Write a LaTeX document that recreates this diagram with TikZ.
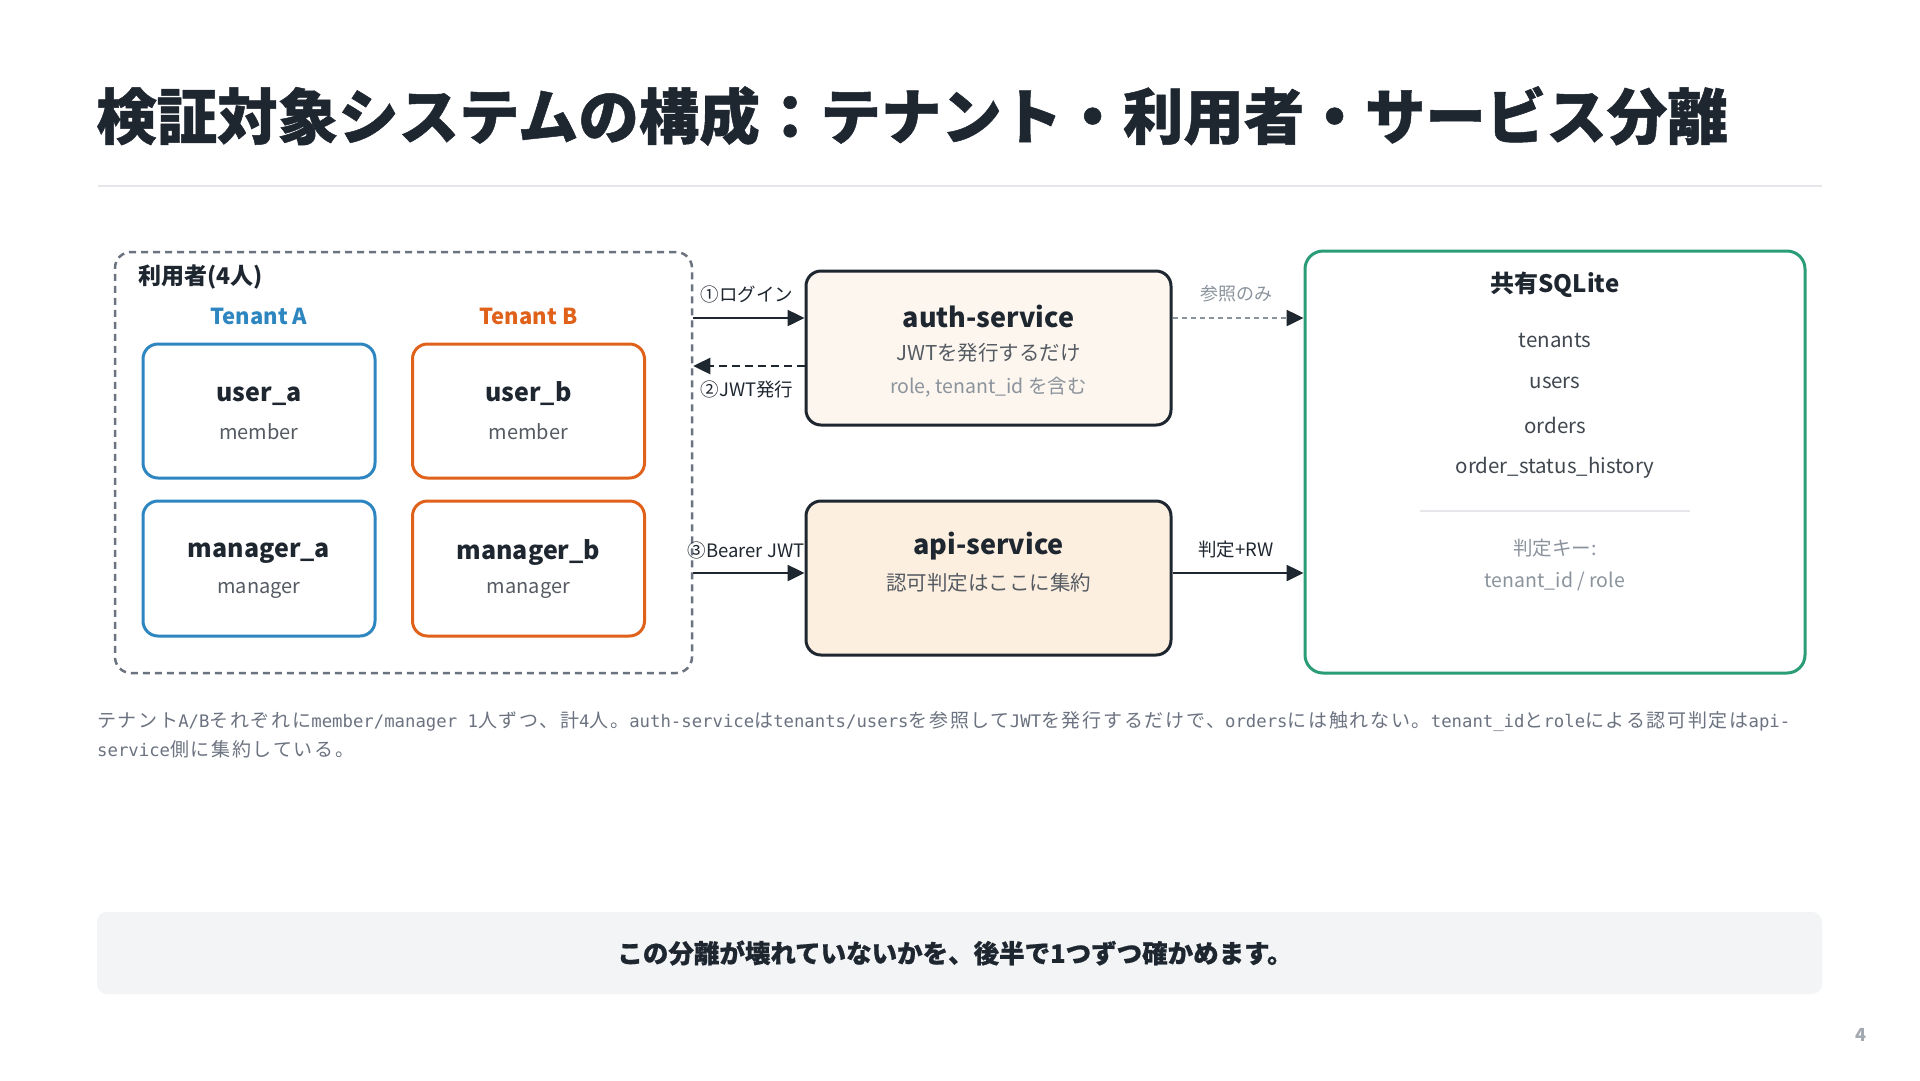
\documentclass[tikz,border=0pt]{standalone}
\usepackage{fontspec}
\setmainfont{Noto Sans CJK JP}
\newfontfamily\heavy{Noto Sans CJK JP}[BoldFeatures={FakeBold=0.8}]
\newfontfamily\monof{DejaVu Sans Mono}
\newfontfamily\capjp{Noto Sans CJK JP}[LetterSpace=9]
\usetikzlibrary{arrows.meta}
\definecolor{dark}{HTML}{1E2630}
\definecolor{tblue}{HTML}{2E86C1}
\definecolor{torange}{HTML}{E0611A}
\definecolor{tgreen}{HTML}{2A9D78}
\definecolor{gtext}{HTML}{555B63}
\definecolor{ltext}{HTML}{8B939C}
\definecolor{rulec}{HTML}{E5E7EB}
\definecolor{authfill}{HTML}{FDF6EE}
\definecolor{apifill}{HTML}{FCEFDF}
\definecolor{banner}{HTML}{F3F4F6}
\definecolor{capc}{HTML}{6B7280}
\newcommand\fs[1]{\fontsize{#1}{#1}\selectfont}
\newcommand\J[1]{{\capjp\fontsize{19}{24}\selectfont #1}}
\begin{document}
\begin{tikzpicture}[x=1pt,y=-1pt,
  lbl/.style={inner sep=0pt, text=dark},
  ubox/.style={draw, line width=3pt, rounded corners=15pt, minimum width=232pt, minimum height=134pt, fill=white, inner sep=0pt},
  svc/.style={draw=dark, line width=3pt, rounded corners=15pt, minimum width=365pt, minimum height=154pt, inner sep=0pt},
  uname/.style={lbl, font=\bfseries\fs{25}},
  urole/.style={inner sep=0pt, text=gtext, font=\fs{20}},
  arr/.style={draw=dark, line width=2.5pt, -{Triangle[length=17pt,width=16pt]}},
  alabel/.style={inner sep=0pt, text=dark, font=\fs{18.5}},
  dbitem/.style={inner sep=0pt, text=dark!85, font=\fs{20.5}}
]
\useasboundingbox (0,0) rectangle (1920,1080);
\fill[white] (0,0) rectangle (1920,1080);

% title
\node[lbl, anchor=west, font=\heavy\bfseries\fs{60.5}] (title) at (96,116) {検証対象システムの構成：テナント・利用者・サービス分離};
\coordinate (rl) at (98,186);
\coordinate (rr) at (1822,186);
\draw[rulec, line width=1.5pt] (rl) -- (rr);

% users group
\node[draw=capc, dashed, dash pattern=on 7pt off 5pt, line width=2.5pt, rounded corners=16pt, minimum width=577pt, minimum height=421pt, inner sep=0pt] (users) at (403.5,462.5) {};
\node[lbl, anchor=west, font=\bfseries\fs{23}] (ulabel) at (138,277) {利用者(4人)};
\node[inner sep=0pt, text=tblue, font=\bfseries\fs{22}] (tA) at (259,316) {Tenant A};
\node[inner sep=0pt, text=torange, font=\bfseries\fs{22}] (tB) at (528.5,316) {Tenant B};

\node[ubox, draw=tblue] (ua) at (259,411) {};
\node[uname] (uan) at (259,396) {user\_a};
\node[urole] (uar) at (259,432) {member};
\node[ubox, draw=torange] (ub) at (528.5,411) {};
\node[uname] (ubn) at (528.5,394) {user\_b};
\node[urole] (ubr) at (528.5,432) {member};
\node[ubox, draw=tblue, minimum height=135pt] (ma) at (259,568.5) {};
\node[uname] (man) at (259,553) {manager\_a};
\node[urole] (mar) at (259,590) {manager};
\node[ubox, draw=torange, minimum height=135pt] (mb) at (528.5,568.5) {};
\node[uname] (mbn) at (528.5,552) {manager\_b};
\node[urole] (mbr) at (528.5,590) {manager};

% services
\node[svc, fill=authfill] (auth) at (988.5,348) {};
\node[lbl, font=\bfseries\fs{27}] (authn) at (988.5,316) {auth-service};
\node[inner sep=0pt, text=gtext, font=\fs{20.5}] (auth1) at (988.5,353) {JWTを発行するだけ};
\node[inner sep=0pt, text=ltext, font=\fs{19.5}] (auth2) at (988.5,387) {role, tenant\_id を含む};

\node[svc, fill=apifill] (api) at (988.5,578) {};
\node[lbl, font=\bfseries\fs{27}] (apin) at (988.5,546) {api-service};
\node[inner sep=0pt, text=gtext, font=\fs{20.5}] (api1) at (988.5,583) {認可判定はここに集約};

% database
\node[draw=tgreen, line width=3pt, rounded corners=18pt, minimum width=500pt, minimum height=422pt, fill=white, inner sep=0pt] (db) at (1555,462) {};
\node[lbl, font=\bfseries\fs{24}] (dbn) at (1555,285) {共有SQLite};
\node[dbitem] (d1) at (1555,340) {tenants};
\node[dbitem] (d2) at (1555,383) {users};
\node[dbitem] (d3) at (1555,425) {orders};
\node[dbitem] (d4) at (1555,468) {order\_status\_history};
\coordinate (dl) at (1420,511);
\coordinate (dr) at (1690,511);
\draw[rulec, line width=1.5pt] (dl) -- (dr);
\node[inner sep=0pt, text=ltext, font=\fs{19.5}] (k1) at (1555,548) {判定キー:};
\node[inner sep=0pt, text=ltext, font=\fs{19.5}] (k2) at (1555,581) {tenant\_id / role};

% connectors
\coordinate (y1) at (0,318);
\coordinate (y2) at (0,366);
\coordinate (y3) at (0,573);
\draw[arr] (users.east |- y1) -- (auth.west |- y1);
\draw[arr, dashed, dash pattern=on 8pt off 5pt] (auth.west |- y2) -- (users.east |- y2);
\draw[arr] (users.east |- y3) -- (api.west |- y3);
\draw[draw=ltext, line width=2.5pt, dash pattern=on 5pt off 4pt, -{Triangle[length=17pt,width=16pt,color=dark]}] (auth.east |- y1) -- (db.west |- y1);
\draw[arr] (api.east |- y3) -- (db.west |- y3);

\node[alabel] (l1) at (747,294) {①ログイン};
\node[alabel] (l2) at (747,389) {②JWT発行};
\node[alabel] (l3) at (746,550) {③Bearer JWT};
\node[inner sep=0pt, text=ltext, font=\fs{18}] (l4) at (1236,294) {参照のみ};
\node[alabel] (l5) at (1236,550) {判定+RW};

% caption
\node[inner sep=0pt, anchor=west, text=capc, font=\monof\fontsize{17.3}{22}\selectfont] (cap1) at (97,722) {\J{テナント}A/B\J{それぞれに}member/manager 1\J{人ずつ、計}4\J{人。}auth-service\J{は}tenants/users\J{を参照して}JWT\J{を発行するだけで、}orders\J{には触れない。}tenant\_id\J{と}role\J{による認可判定は}api-};
\node[inner sep=0pt, anchor=west, text=capc, font=\monof\fontsize{17.3}{22}\selectfont] (cap2) at (97,749) {service\J{側に集約している。}};

% banner
\node[fill=banner, rounded corners=10pt, minimum width=1725pt, minimum height=82pt, inner sep=0pt] (ban) at (959.5,953) {};
\node[lbl, font=\heavy\bfseries\fs{25.5}] (bant) at (955,953) {この分離が壊れていないかを、後半で1つずつ確かめます。};

\node[inner sep=0pt, text=ltext!80, font=\bfseries\fs{18}] (pg) at (1861,1035) {4};
\end{tikzpicture}
\end{document}
